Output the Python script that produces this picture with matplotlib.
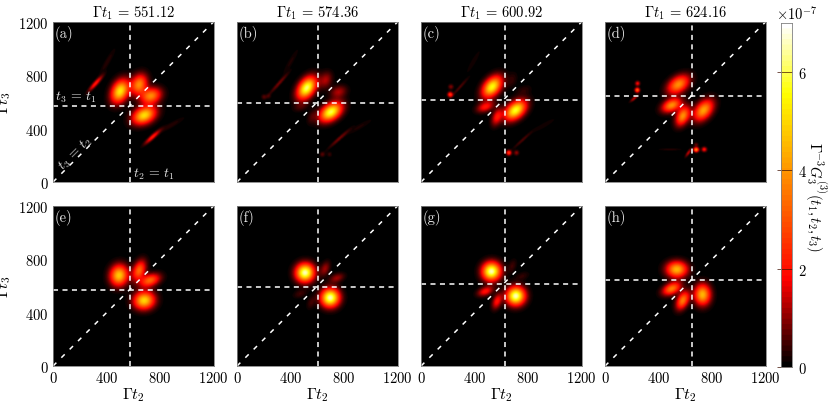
import numpy as np
import matplotlib
matplotlib.use("Agg")
import matplotlib.pyplot as plt
from matplotlib.colors import LinearSegmentedColormap

plt.rcParams['mathtext.fontset'] = 'cm'
plt.rcParams['font.family'] = 'DejaVu Serif'

W, H = 830, 402

# panel titles and lines
t1_values = ["551.12", "574.36", "600.92", "624.16"]
panel_labels = ["(a)", "(b)", "(c)", "(d)", "(e)", "(f)", "(g)", "(h)"]
vline_pos = [577, 602, 625, 650, 577, 602, 625, 650]
hline_pos = [568, 592, 618, 642, 568, 592, 618, 642]
ticks = [0, 400, 800, 1200]
cbar_ticks = [0, 2, 4, 6]

# blobs: x, y, peak (1e-7), long sigma, short sigma, angle
blobs_a = [(500, 677, 5.3, 60, 40, 65), (642, 727, 3.8, 52, 38, 70), (730, 642, 3.8, 52, 38, 20),
           (680, 497, 5.1, 60, 40, 25), (317, 735, 2.1, 50, 11, 48), (742, 335, 2.1, 50, 11, 42),
           (405, 897, 0.3, 80, 14, 60), (880, 422, 0.3, 80, 14, 30)]
blobs_b = [(520, 702, 6.2, 60, 38, 55), (700, 522, 6.0, 60, 38, 35), (662, 760, 1.2, 42, 30, 70),
           (757, 672, 1.2, 42, 30, 20), (475, 560, 0.45, 38, 22, 20), (557, 485, 0.45, 38, 22, 70),
           (312, 735, 0.8, 70, 9, 48), (762, 322, 0.8, 70, 9, 42), (200, 635, 0.6, 13, 13, 0),
           (235, 640, 0.4, 13, 13, 0), (637, 205, 0.6, 13, 13, 0), (690, 205, 0.4, 13, 13, 0),
           (400, 897, 0.25, 80, 14, 60), (912, 410, 0.25, 80, 14, 30)]
blobs_c = [(530, 710, 5.6, 60, 38, 50), (705, 535, 5.8, 60, 38, 40), (480, 560, 2.0, 44, 24, 20),
           (567, 485, 2.0, 44, 24, 70), (680, 760, 0.35, 40, 24, 70), (767, 685, 0.3, 40, 24, 20),
           (217, 652, 2.6, 13, 13, 0), (222, 710, 0.9, 13, 13, 0), (292, 710, 0.55, 60, 8, 48),
           (655, 217, 2.6, 13, 13, 0), (712, 217, 1.0, 13, 13, 0), (755, 310, 0.55, 60, 8, 42),
           (390, 897, 0.2, 80, 14, 60), (917, 422, 0.2, 80, 14, 30)]
blobs_d = [(547, 727, 3.9, 60, 38, 35), (735, 535, 4.2, 60, 38, 50), (497, 572, 3.9, 50, 30, 25),
           (580, 492, 3.9, 50, 30, 65), (240, 685, 3.3, 12, 12, 0), (242, 735, 1.8, 12, 12, 0),
           (215, 622, 1.3, 24, 8, 40), (680, 240, 3.8, 13, 12, 0), (740, 242, 2.0, 13, 12, 0),
           (622, 217, 1.3, 24, 8, 55), (485, 242, 0.3, 60, 7, 0), (680, 277, 0.7, 11, 11, 0)]
blobs_e = [(492, 680, 4.8, 52, 44, 80), (642, 717, 3.3, 52, 30, 70), (722, 642, 3.3, 52, 30, 20),
           (680, 492, 5.0, 52, 44, 10)]
blobs_f = [(507, 700, 6.6, 46, 45, 45), (695, 512, 6.6, 46, 45, 45), (657, 730, 1.1, 38, 22, 70),
           (745, 660, 1.1, 38, 22, 20), (470, 542, 0.45, 35, 20, 20), (552, 475, 0.45, 35, 20, 70)]
blobs_g = [(525, 710, 6.6, 46, 45, 45), (707, 525, 6.6, 46, 45, 45), (480, 560, 2.0, 40, 22, 20),
           (567, 485, 2.0, 40, 22, 70), (680, 750, 0.45, 36, 20, 70), (755, 675, 0.35, 36, 20, 20)]
blobs_h = [(535, 725, 4.5, 52, 40, 0), (727, 535, 4.5, 52, 40, 90), (497, 580, 3.6, 48, 28, 25),
           (580, 492, 3.6, 48, 28, 65)]
all_blobs = [blobs_a, blobs_b, blobs_c, blobs_d, blobs_e, blobs_f, blobs_g, blobs_h]

cmap = LinearSegmentedColormap.from_list(
    "hot_ish", [(0, "black"), (0.25, "#ff0000"), (0.8, "#ffff00"), (1, "white")], N=64)


def make_field(blobs):
    grid = np.linspace(0, 1200, 401)
    xx, yy = np.meshgrid(grid, grid)
    field = np.zeros_like(xx)
    for x0, y0, peak, s1, s2, angle in blobs:
        a = np.deg2rad(angle)
        u = (xx - x0) * np.cos(a) + (yy - y0) * np.sin(a)
        v = -(xx - x0) * np.sin(a) + (yy - y0) * np.cos(a)
        field += peak * np.exp(-u**2 / (2 * s1**2) - v**2 / (2 * s2**2))
    return field


def box(left, top, right, bottom):
    return [left / W, 1 - bottom / H, (right - left) / W, (bottom - top) / H]


fig = plt.figure(figsize=(W / 100, H / 100), dpi=100)

lefts = [53, 237, 421, 605]
tops = [23, 207]
for i in range(8):
    col, row = i % 4, i // 4
    ax = fig.add_axes(box(lefts[col], tops[row], lefts[col] + 160.5, tops[row] + 160))
    ax.imshow(make_field(all_blobs[i]), origin="lower", extent=[0, 1200, 0, 1200],
              cmap=cmap, vmin=0, vmax=7, aspect="auto", interpolation="bilinear")
    ax.plot([0, 1200], [0, 1200], color="white", lw=1.1, dashes=(3.1, 4.6))
    ax.plot([vline_pos[i], vline_pos[i]], [0, 1200], color="white", lw=1.1, dashes=(3.3, 2.9))
    ax.plot([0, 1200], [hline_pos[i], hline_pos[i]], color="white", lw=1.1, dashes=(3.3, 2.9))
    ax.set_xlim(0, 1200)
    ax.set_ylim(0, 1200)
    ax.set_xticks(ticks)
    ax.set_yticks(ticks)
    ax.tick_params(length=0, labelsize=10.5, pad=3)
    ax.set_xticklabels([f"${t}$" for t in ticks] if row == 1 else [])
    ax.set_yticklabels([f"${t}$" for t in ticks] if col == 0 else [])
    for s in ax.spines.values():
        s.set_color("#808080")
        s.set_linewidth(0.6)
    ax.text(15, 1115, panel_labels[i], color="#e8e8e8", fontsize=10.5, va="center", ha="left",
            family="cmr10")
    if row == 0:
        ax.set_title(rf"$\Gamma t_1\,=\,{t1_values[col]}$", fontsize=10.5, pad=4)
    else:
        ax.set_xlabel(r"$\Gamma t_2$", fontsize=11.5, labelpad=0)
    if col == 0:
        ax.set_ylabel(r"$\Gamma t_3$", fontsize=11.5)
        ax.yaxis.set_label_coords(-0.25, 0.5)
    if i == 0:
        ax.text(15, 640, r"$t_3\,=\,t_1$", color="#e8e8e8", fontsize=10, va="center")
        ax.text(170, 222, r"$t_3\,=\,t_2$", color="#e8e8e8", fontsize=10, va="center",
                ha="center", rotation=45)
        ax.text(755, 67, r"$t_2\,=\,t_1$", color="#e8e8e8", fontsize=10, va="center", ha="center")

# colorbar
cax = fig.add_axes(box(781, 24, 792, 368))
gradient = np.linspace(0, 7, 256).reshape(-1, 1)
cax.imshow(gradient, origin="lower", extent=[0, 1, 0, 7], cmap=cmap, vmin=0, vmax=7, aspect="auto")
cax.set_xticks([])
cax.yaxis.tick_right()
cax.set_yticks(cbar_ticks)
cax.set_yticklabels([f"${t}$" for t in cbar_ticks])
cax.tick_params(axis="y", direction="in", length=11, width=0.5, color="#401000", labelsize=10.5, pad=4)
for s in cax.spines.values():
    s.set_color("#808080")
    s.set_linewidth(0.6)
fig.text(797 / W, 1 - 14 / H, r"$\times 10^{-7}$", fontsize=10.5, ha="center", va="center")
fig.text(816 / W, 1 - 197 / H, r"$\Gamma^{-3}G_3^{(3)}(t_1,t_2,t_3)$", fontsize=10.5,
         rotation=-90, ha="center", va="center")

fig.savefig("out.png", dpi=100)
